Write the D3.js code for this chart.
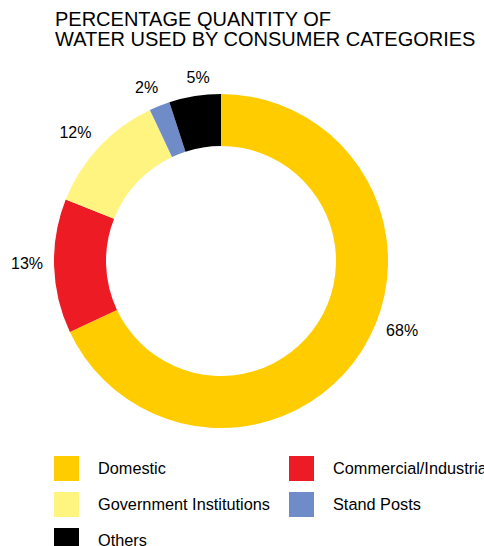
<!DOCTYPE html>
<html>
<head>
<meta charset="utf-8">
<script src="https://cdn.jsdelivr.net/npm/d3@7"></script>
<style>
  html, body { margin: 0; padding: 0; background: #fff; }
  svg { display: block; font-family: "Liberation Sans", Arial, sans-serif; }
</style>
</head>
<body>
<svg id="chart" width="484" height="546"></svg>
<script>
// Consumer categories and their share of water use (%)
const categories = ["Domestic", "Commercial/Industrial", "Government Institutions", "Stand Posts", "Others"];
const shares = [68, 13, 12, 2, 5];
const colors = ["#FFCC00", "#ED1C24", "#FFF480", "#6F8CC8", "#000000"];
const titleLines = ["PERCENTAGE QUANTITY OF", "WATER USED BY CONSUMER CATEGORIES"];

const svg = d3.select("#chart");
const cx = 221, cy = 261;
const outerR = 167, innerR = 115;
// Per-label placement around the ring: angular nudge (degrees) off the
// slice mid-angle, and distance from the centre
const labelNudgeDeg = [-11.4, 1.1, -1.8, -1.6, 1.9];
const labelDist = [194, 194, 194, 189, 185];

// Title
svg.append("g")
  .selectAll("text")
  .data(titleLines)
  .join("text")
  .attr("x", 55)
  .attr("y", (d, i) => 26 + i * 20)
  .attr("font-size", 20)
  .attr("fill", "#000")
  .text(d => d);

const data = categories.map((c, i) => ({ name: c, value: shares[i], color: colors[i], idx: i }));

const pie = d3.pie().sort(null).value(d => d.value);
const arc = d3.arc().innerRadius(innerR).outerRadius(outerR);
const arcs = pie(data);

const g = svg.append("g").attr("transform", `translate(${cx},${cy})`);

g.selectAll("path")
  .data(arcs)
  .join("path")
  .attr("d", arc)
  .attr("fill", d => d.data.color);

// Percentage labels around the ring
const labelAngle = d => (d.startAngle + d.endAngle) / 2 + labelNudgeDeg[d.data.idx] * Math.PI / 180;
g.selectAll("text.pct")
  .data(arcs)
  .join("text")
  .attr("class", "pct")
  .attr("x", d => labelDist[d.data.idx] * Math.sin(labelAngle(d)))
  .attr("y", d => -labelDist[d.data.idx] * Math.cos(labelAngle(d)))
  .attr("dy", "0.358em")
  .attr("text-anchor", "middle")
  .attr("font-size", 16)
  .attr("fill", "#000")
  .text(d => d.data.value + "%");

// Legend, two columns filled row by row
const items = svg.append("g")
  .selectAll("g")
  .data(data)
  .join("g")
  .attr("transform", (d, k) => `translate(${54 + (k % 2) * 235},${456 + Math.floor(k / 2) * 36})`);

items.append("rect")
  .attr("width", 25)
  .attr("height", 25)
  .attr("fill", d => d.color);

items.append("text")
  .attr("x", 44)
  .attr("y", 12.5)
  .attr("dy", "0.358em")
  .attr("font-size", 16.3)
  .attr("fill", "#000")
  .text(d => d.name);
</script>
</body>
</html>
